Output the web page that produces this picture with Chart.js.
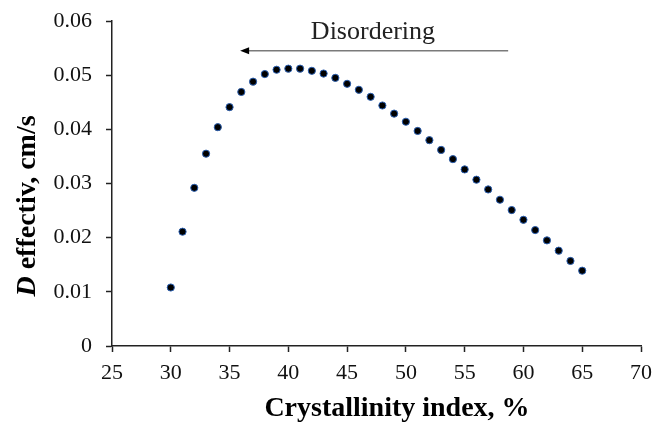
<!DOCTYPE html>
<html>
<head>
<meta charset="utf-8">
<script src="https://cdn.jsdelivr.net/npm/chart.js@4.4.0/dist/chart.umd.min.js"></script>
<style>
  body { margin: 0; background: #fff; }
  canvas { display: block; }
</style>
</head>
<body>
<canvas id="myChart" width="655" height="424"></canvas>
<script>
// crystallinity index (%) and effective D (cm/s)
const crystIndex = [30, 31, 32, 33, 34, 35, 36, 37, 38, 39, 40, 41, 42, 43, 44, 45, 46, 47,
    48, 49, 50, 51, 52, 53, 54, 55, 56, 57, 58, 59, 60, 61, 62, 63, 64, 65];
const dEffectiv = [0.0108, 0.0211, 0.0292, 0.0355, 0.0404, 0.0441, 0.0469, 0.0488, 0.0502,
    0.0510, 0.0512, 0.0512, 0.0508, 0.0503, 0.0495, 0.0484, 0.0473, 0.0460, 0.0444, 0.0429,
    0.0414, 0.0397, 0.0380, 0.0362, 0.0345, 0.0326, 0.0307, 0.0289, 0.0270, 0.0251, 0.0233,
    0.0214, 0.0195, 0.0176, 0.0157, 0.0139];
const xTicks = [25, 30, 35, 40, 45, 50, 55, 60, 65, 70];
const yTicks = [0, 0.01, 0.02, 0.03, 0.04, 0.05, 0.06];

// annotation (in data units)
const arrowLabel = 'Disordering';
const arrowStart = 58.7;
const arrowEnd = 35.9;
const arrowLevel = 0.0545;
const labelX = 47.2;
const labelY = 0.0567;

const points = crystIndex.map((x, i) => ({x: x, y: dEffectiv[i]}));

const extrasPlugin = {
    id: 'extras',
    afterDraw(chart) {
        const c = chart.ctx;
        const xs = chart.scales.x;
        const ys = chart.scales.y;
        c.save();
        // arrow
        const x1 = xs.getPixelForValue(arrowStart);
        const x2 = xs.getPixelForValue(arrowEnd);
        const ay = ys.getPixelForValue(arrowLevel);
        c.strokeStyle = '#7a7a7a';
        c.lineWidth = 1.5;
        c.beginPath();
        c.moveTo(x1, ay);
        c.lineTo(x2 + 8, ay);
        c.stroke();
        c.fillStyle = '#000';
        c.beginPath();
        c.moveTo(x2, ay);
        c.lineTo(x2 + 9, ay - 3.5);
        c.lineTo(x2 + 9, ay + 3.5);
        c.closePath();
        c.fill();
        // label
        c.fillStyle = '#222';
        c.font = '26px "Liberation Serif"';
        c.textAlign = 'center';
        c.textBaseline = 'alphabetic';
        c.fillText(arrowLabel, xs.getPixelForValue(labelX), ys.getPixelForValue(labelY));
        // x title
        c.fillStyle = '#000';
        c.font = 'bold 28px "Liberation Serif"';
        c.fillText('Crystallinity index, %', 397, 416);
        // y title with italic D
        c.translate(35, 206);
        c.rotate(-Math.PI / 2);
        const partA = 'D';
        const partB = ' effectiv, cm/s';
        c.font = 'italic bold 28px "Liberation Serif"';
        const wA = c.measureText(partA).width;
        c.font = 'bold 28px "Liberation Serif"';
        const wB = c.measureText(partB).width;
        const start = -(wA + wB) / 2;
        c.textAlign = 'left';
        c.font = 'italic bold 28px "Liberation Serif"';
        c.fillText(partA, start, 0);
        c.font = 'bold 28px "Liberation Serif"';
        c.fillText(partB, start + wA, 0);
        c.restore();
    }
};

const ctx = document.getElementById('myChart').getContext('2d');
var myChart = new Chart(ctx, {
    type: 'scatter',
    data: {
        datasets: [{
            label: 'D effectiv',
            data: points,
            backgroundColor: '#000',
            borderColor: '#2b5fb0',
            borderWidth: 1,
            pointRadius: 3.6
        }]
    },
    options: {
        responsive: false,
        animation: false,
        layout: {padding: {top: 21, right: 14, left: 0, bottom: 0}},
        plugins: {
            legend: {display: false},
            tooltip: {enabled: false}
        },
        scales: {
            x: {
                type: 'linear',
                min: 25,
                max: 70,
                afterBuildTicks: (scale) => { scale.ticks = xTicks.map(v => ({value: v})); },
                afterFit: (scale) => {
                    scale.height = 78;
                    scale.paddingLeft = 0;
                    scale.paddingRight = 0;
                },
                grid: {drawOnChartArea: false, drawTicks: true, tickLength: 6, tickColor: '#222', tickWidth: 1.5},
                border: {display: true, color: '#222', width: 1.5},
                ticks: {
                    padding: 8,
                    color: '#111',
                    font: {family: '"Liberation Serif"', size: 22}
                }
            },
            y: {
                min: 0,
                max: 0.06,
                afterBuildTicks: (scale) => { scale.ticks = yTicks.map(v => ({value: v})); },
                afterFit: (scale) => {
                    scale.width = 112;
                    scale.paddingTop = 0;
                    scale.paddingBottom = 0;
                },
                grid: {drawOnChartArea: false, drawTicks: true, tickLength: 6, tickColor: '#222', tickWidth: 1.5},
                border: {display: true, color: '#222', width: 1.5},
                ticks: {
                    padding: 14,
                    color: '#111',
                    font: {family: '"Liberation Serif"', size: 22},
                    callback: (v) => v === 0 ? '0' : v.toFixed(2)
                }
            }
        }
    },
    plugins: [extrasPlugin]
});
</script>
</body>
</html>
